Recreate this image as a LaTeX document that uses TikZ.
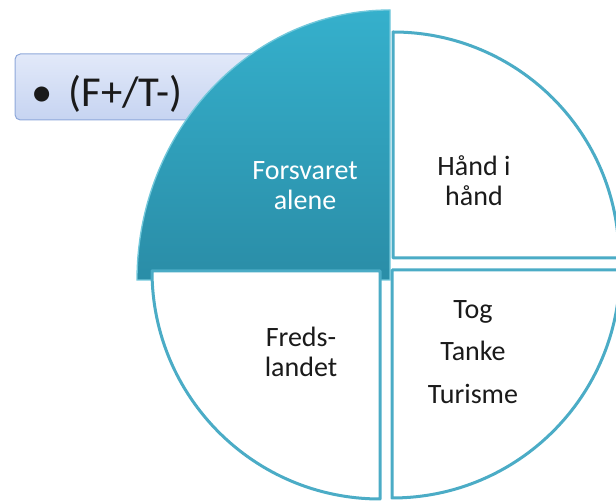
\documentclass[tikz,border=0pt]{standalone}
\usepackage{fontspec}
\setmainfont{Carlito}
\usetikzlibrary{positioning}
\definecolor{Aqua}{HTML}{4BACC6}
\definecolor{AquaTop}{HTML}{35B0CC}
\definecolor{AquaBot}{HTML}{2A8DA7}
\definecolor{BoxTop}{HTML}{E2E9F9}
\definecolor{BoxBot}{HTML}{C6D4F1}
\definecolor{BoxLine}{HTML}{8EA8DA}
\definecolor{Ink}{HTML}{1A1A1A}

\begin{document}
\begin{tikzpicture}[x=0.75pt,y=0.75pt,piece/.style={draw=Aqua,line width=2.25pt,fill=white,line join=round},lead/.style={draw=AquaTop!70!white,line width=1pt,top color=AquaTop,bottom color=AquaBot},quartertext/.style={font=\fontsize{21}{22.5}\selectfont,align=center,text=Ink}]
\useasboundingbox (0,0) rectangle (616,502);
% callout box behind the pie
\draw[rounded corners=4,draw=BoxLine,top color=BoxTop,bottom color=BoxBot,line width=0.75pt] (15,448) rectangle (280,382);
\node[anchor=west,inner sep=0,font=\fontsize{32}{36}\selectfont,text=Ink] (tag) at (31,408) {\textbullet\hspace{12pt}(F+/T-)};
% lifted quarter first, the white ones overlap its lower edge
\draw[lead] (390,222) -- (390,492) arc[start angle=90,end angle=180,x radius=253,y radius=270] -- cycle;
\draw[piece] (393,244) -- (393,470) arc[start angle=90,end angle=0,radius=226] -- cycle;
\draw[piece] (380,231) -- (152,231) arc[start angle=180,end angle=270,radius=228] -- cycle;
\draw[piece] (392,232) -- (392,4) arc[start angle=270,end angle=360,radius=228] -- cycle;
\node[quartertext,text=white] (alone) at (305,316) {Forsvaret\\alene};
\node[quartertext] (hand) at (474,321) {Hånd i\\hånd};
\node[quartertext] (peace) at (301,150) {Freds-\\landet};
\node[quartertext,font=\fontsize{21}{32}\selectfont] (trio) at (473,150) {Tog\\Tanke\\Turisme};
\end{tikzpicture}
\end{document}
